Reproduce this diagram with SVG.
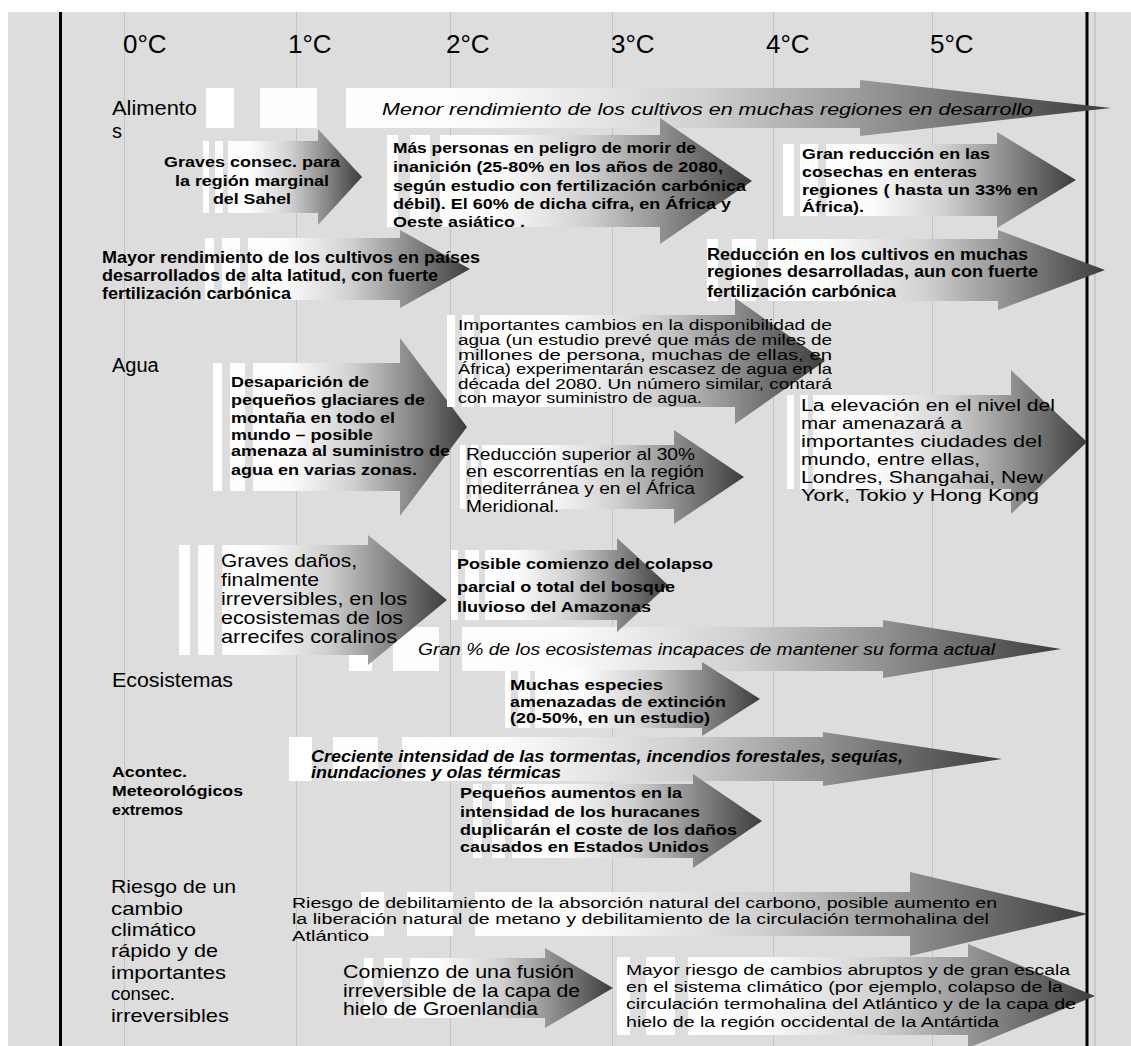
<svg xmlns="http://www.w3.org/2000/svg" width="1131" height="1046" viewBox="0 0 1131 1046">
<defs>
<linearGradient id="g" x1="0" y1="0" x2="1" y2="0">
<stop offset="0" stop-color="#ffffff"/>
<stop offset="0.3" stop-color="#fcfcfc"/>
<stop offset="0.55" stop-color="#d0d0d0"/>
<stop offset="0.75" stop-color="#919191"/>
<stop offset="1" stop-color="#3c3c3c"/>
</linearGradient>
<style>
.a{fill:url(#g)}
text{font-family:"Liberation Sans",Arial,sans-serif;fill:#000}
.b{font-weight:bold}
.i{font-style:italic}
.h{font-size:26px}
.r{font-size:20px}
.grid{stroke:#c4c4c4;stroke-width:1}
</style>
</defs>
<rect x="0" y="0" width="1131" height="1046" fill="#ffffff"/>
<rect x="8" y="12" width="1123" height="1034" fill="#dddddd"/>
<g id="axes">
<line class="grid" x1="124.5" y1="12" x2="124.5" y2="1046"/>
<line class="grid" x1="296.5" y1="12" x2="296.5" y2="1046"/>
<line class="grid" x1="450.5" y1="12" x2="450.5" y2="1046"/>
<line class="grid" x1="612.5" y1="12" x2="612.5" y2="1046"/>
<line class="grid" x1="773.5" y1="12" x2="773.5" y2="1046"/>
<line class="grid" x1="932.5" y1="12" x2="932.5" y2="1046"/>
<line x1="1095" y1="12" x2="1095" y2="1046" stroke="#c8c8c8" stroke-width="2"/>
<line x1="60.5" y1="12" x2="60.5" y2="1046" stroke="#000" stroke-width="3"/>
<line x1="1087" y1="12" x2="1087" y2="1046" stroke="#000" stroke-width="3"/>
<text class="h" x="123" y="53">0°C</text>
<text class="h" x="288" y="53">1°C</text>
<text class="h" x="446" y="53">2°C</text>
<text class="h" x="611" y="53">3°C</text>
<text class="h" x="766" y="53">4°C</text>
<text class="h" x="930" y="53">5°C</text>
</g>
<g id="labels">
<text class="r" x="112" y="115" textLength="85" lengthAdjust="spacingAndGlyphs">Alimento</text>
<text class="r" x="112" y="138">s</text>
<text class="r" x="112" y="372">Agua</text>
<text class="r" x="112" y="687" textLength="121" lengthAdjust="spacingAndGlyphs">Ecosistemas</text>
<g class="b" font-size="15.5">
<text x="112" y="777" textLength="75" lengthAdjust="spacingAndGlyphs">Acontec.</text>
<text x="112" y="796" textLength="131" lengthAdjust="spacingAndGlyphs">Meteorológicos</text>
<text x="112" y="815" textLength="71" lengthAdjust="spacingAndGlyphs">extremos</text>
</g>
<g font-size="19">
<text x="111" y="893" textLength="125" lengthAdjust="spacingAndGlyphs">Riesgo de un</text>
<text x="111" y="915" textLength="72" lengthAdjust="spacingAndGlyphs">cambio</text>
<text x="111" y="936" textLength="85" lengthAdjust="spacingAndGlyphs">climático</text>
<text x="111" y="957" textLength="107" lengthAdjust="spacingAndGlyphs">rápido y de</text>
<text x="111" y="979" textLength="115" lengthAdjust="spacingAndGlyphs">importantes</text>
<text x="111" y="1000" textLength="64" lengthAdjust="spacingAndGlyphs">consec.</text>
<text x="111" y="1022" textLength="118" lengthAdjust="spacingAndGlyphs">irreversibles</text>
</g>
</g>
<g id="connectors"></g>
<g id="n1">
<path class="a" d="M206 88H234V128H206Z M260 88H317V128H260Z M346 88H860V80L1111 108L860 136V128H346Z"/>
<text class="i" x="382" y="115" font-size="17" textLength="651" lengthAdjust="spacingAndGlyphs">Menor rendimiento de los cultivos en muchas regiones en desarrollo</text>
</g>
<g id="n2">
<path class="a" d="M203 141H209V213H203Z M215 141H223V213H215Z M228 141H318V129L362 177L318 225V213H228Z"/>
<g class="b" font-size="15.5">
<text x="164" y="167" textLength="176" lengthAdjust="spacingAndGlyphs">Graves consec. para</text>
<text x="175" y="186" textLength="154" lengthAdjust="spacingAndGlyphs">la región marginal</text>
<text x="213" y="204" textLength="78" lengthAdjust="spacingAndGlyphs">del Sahel</text>
</g>
</g>
<g id="n3">
<path class="a" d="M387 135H398V227H387Z M410 135H430V227H410Z M440 135H660V118L752 181L660 244V227H440Z"/>
<g class="b" font-size="15.5">
<text x="393" y="153" textLength="303" lengthAdjust="spacingAndGlyphs">Más personas en peligro de morir de</text>
<text x="393" y="172" textLength="330" lengthAdjust="spacingAndGlyphs">inanición (25-80% en los años de 2080,</text>
<text x="393" y="191" textLength="353" lengthAdjust="spacingAndGlyphs">según estudio con fertilización carbónica</text>
<text x="393" y="209" textLength="338" lengthAdjust="spacingAndGlyphs">débil). El 60% de dicha cifra, en África y</text>
<text x="393" y="227" textLength="132" lengthAdjust="spacingAndGlyphs">Oeste asiático .</text>
</g>
</g>
<g id="n4">
<path class="a" d="M783 144H794V216H783Z M800 144H818V216H800Z M826 144H997V132L1076 180L997 228V216H826Z"/>
<g class="b" font-size="15.5">
<text x="802" y="159" textLength="188" lengthAdjust="spacingAndGlyphs">Gran reducción en las</text>
<text x="802" y="177" textLength="175" lengthAdjust="spacingAndGlyphs">cosechas en enteras</text>
<text x="802" y="195" textLength="236" lengthAdjust="spacingAndGlyphs">regiones ( hasta un 33% en</text>
<text x="802" y="212" textLength="62" lengthAdjust="spacingAndGlyphs">África).</text>
</g>
</g>
<g id="n5">
<path class="a" d="M205 238H214V300H205Z M222 238H240V300H222Z M248 238H400V230L470 269L400 308V300H248Z"/>
<g class="b" font-size="16">
<text x="102" y="263" textLength="378" lengthAdjust="spacingAndGlyphs">Mayor rendimiento de los cultivos en países</text>
<text x="102" y="281" textLength="336" lengthAdjust="spacingAndGlyphs">desarrollados de alta latitud, con fuerte</text>
<text x="102" y="299" textLength="189" lengthAdjust="spacingAndGlyphs">fertilización carbónica</text>
</g>
</g>
<g id="n6">
<path class="a" d="M707 239H718V301H707Z M732 239H756V301H732Z M768 239H998V230L1105 270L998 310V301H768Z"/>
<g class="b" font-size="16">
<text x="707" y="260" textLength="321" lengthAdjust="spacingAndGlyphs">Reducción en los cultivos en muchas</text>
<text x="707" y="277" textLength="331" lengthAdjust="spacingAndGlyphs">regiones desarrolladas, aun con fuerte</text>
<text x="707" y="297" textLength="189" lengthAdjust="spacingAndGlyphs">fertilización carbónica</text>
</g>
</g>
<g id="n9">
<path class="a" d="M213 363H222V491H213Z M230 363H245V491H230Z M253 363H400V338L467 427L400 516V491H253Z"/>
<g class="b" font-size="15.5">
<text x="231" y="387" textLength="138" lengthAdjust="spacingAndGlyphs">Desaparición de</text>
<text x="231" y="405" textLength="194" lengthAdjust="spacingAndGlyphs">pequeños glaciares de</text>
<text x="231" y="423" textLength="164" lengthAdjust="spacingAndGlyphs">montaña en todo el</text>
<text x="231" y="440" textLength="142" lengthAdjust="spacingAndGlyphs">mundo – posible</text>
<text x="231" y="456" textLength="219" lengthAdjust="spacingAndGlyphs">amenaza al suministro de</text>
<text x="231" y="475" textLength="186" lengthAdjust="spacingAndGlyphs">agua en varias zonas.</text>
</g>
</g>
<g id="n7">
<path class="a" d="M447 315H455V407H447Z M462 315H474V407H462Z M480 315H735V298L825 361L735 424V407H480Z"/>
<g font-size="14">
<text x="458" y="330" textLength="374" lengthAdjust="spacingAndGlyphs">Importantes cambios en la disponibilidad de</text>
<text x="458" y="345" textLength="374" lengthAdjust="spacingAndGlyphs">agua (un estudio prevé que más de miles de</text>
<text x="458" y="360" textLength="374" lengthAdjust="spacingAndGlyphs">millones de persona, muchas de ellas, en</text>
<text x="458" y="374" textLength="374" lengthAdjust="spacingAndGlyphs">África) experimentarán escasez de agua en la</text>
<text x="458" y="389" textLength="374" lengthAdjust="spacingAndGlyphs">década del 2080. Un número similar, contará</text>
<text x="458" y="403" textLength="244" lengthAdjust="spacingAndGlyphs">con mayor suministro de agua.</text>
</g>
</g>
<g id="n10">
<path class="a" d="M460 445H466V509H460Z M471 445H478V509H471Z M482 445H674V430L744 477L674 524V509H482Z"/>
<g font-size="16">
<text x="466" y="460" textLength="229" lengthAdjust="spacingAndGlyphs">Reducción superior al 30%</text>
<text x="466" y="477" textLength="238" lengthAdjust="spacingAndGlyphs">en escorrentías en la región</text>
<text x="466" y="494" textLength="229" lengthAdjust="spacingAndGlyphs">mediterránea y en el África</text>
<text x="466" y="512" textLength="93" lengthAdjust="spacingAndGlyphs">Meridional.</text>
</g>
</g>
<g id="n8">
<path class="a" d="M787 395H794V489H787Z M800 395H808V489H800Z M813 395H1011V370L1087 442L1011 514V489H813Z"/>
<g font-size="16">
<text x="801" y="411" textLength="254" lengthAdjust="spacingAndGlyphs">La elevación en el nivel del</text>
<text x="801" y="429" textLength="161" lengthAdjust="spacingAndGlyphs">mar amenazará a</text>
<text x="801" y="447" textLength="241" lengthAdjust="spacingAndGlyphs">importantes ciudades del</text>
<text x="801" y="465" textLength="179" lengthAdjust="spacingAndGlyphs">mundo, entre ellas,</text>
<text x="801" y="483" textLength="242" lengthAdjust="spacingAndGlyphs">Londres, Shangahai, New</text>
<text x="801" y="501" textLength="238" lengthAdjust="spacingAndGlyphs">York, Tokio y Hong Kong</text>
</g>
</g>
<g id="n12">
<path class="a" d="M349 627H372V671H349Z M393 627H439V671H393Z M462 627H883V620L1061 649L883 678V671H462Z"/>
<text class="i" x="418" y="655" font-size="16" textLength="577" lengthAdjust="spacingAndGlyphs">Gran % de los ecosistemas incapaces de mantener su forma actual</text>
</g>
<g id="n11">
<path class="a" d="M179 545H190V655H179Z M198 545H214V655H198Z M222 545H368V535L447 600L368 665V655H222Z"/>
<g font-size="18.5">
<text x="221" y="567" textLength="136" lengthAdjust="spacingAndGlyphs">Graves daños,</text>
<text x="221" y="586" textLength="98" lengthAdjust="spacingAndGlyphs">finalmente</text>
<text x="221" y="605" textLength="186" lengthAdjust="spacingAndGlyphs">irreversibles, en los</text>
<text x="221" y="624" textLength="182" lengthAdjust="spacingAndGlyphs">ecosistemas de los</text>
<text x="221" y="643" textLength="176" lengthAdjust="spacingAndGlyphs">arrecifes coralinos</text>
</g>
</g>
<g id="n13">
<path class="a" d="M451 550H458V620H451Z M465 550H479V620H465Z M485 550H617V538L668 585L617 632V620H485Z"/>
<g class="b" font-size="15.5">
<text x="457" y="569" textLength="256" lengthAdjust="spacingAndGlyphs">Posible comienzo del colapso</text>
<text x="457" y="592" textLength="218" lengthAdjust="spacingAndGlyphs">parcial o total del bosque</text>
<text x="457" y="612" textLength="194" lengthAdjust="spacingAndGlyphs">lluvioso del Amazonas</text>
</g>
</g>
<g id="n14">
<path class="a" d="M505 670H511V728H505Z M518 670H530V728H518Z M535 670H702V662L760 699L702 736V728H535Z"/>
<g class="b" font-size="15">
<text x="510" y="690" textLength="153" lengthAdjust="spacingAndGlyphs">Muchas  especies</text>
<text x="510" y="707" textLength="216" lengthAdjust="spacingAndGlyphs">amenazadas de extinción</text>
<text x="510" y="723" textLength="200" lengthAdjust="spacingAndGlyphs">(20-50%, en un estudio)</text>
</g>
</g>
<g id="n15">
<path class="a" d="M289 737H312V781H289Z M333 737H378V781H333Z M402 737H823V732L1002 759L823 786V781H402Z"/>
<g class="b i" font-size="16">
<text x="311" y="762" textLength="592" lengthAdjust="spacingAndGlyphs">Creciente intensidad de las tormentas, incendios forestales, sequías,</text>
<text x="311" y="778" textLength="250" lengthAdjust="spacingAndGlyphs">inundaciones y olas térmicas</text>
</g>
</g>
<g id="n16">
<path class="a" d="M473 784H482V858H473Z M492 784H505V858H492Z M512 784H693V774L762 821L693 868V858H512Z"/>
<g class="b" font-size="14.5">
<text x="460" y="798" textLength="222" lengthAdjust="spacingAndGlyphs">Pequeños aumentos en la</text>
<text x="460" y="817" textLength="240" lengthAdjust="spacingAndGlyphs">intensidad de los huracanes</text>
<text x="460" y="835" textLength="277" lengthAdjust="spacingAndGlyphs">duplicarán el coste de los daños</text>
<text x="460" y="852" textLength="249" lengthAdjust="spacingAndGlyphs">causados en Estados Unidos</text>
</g>
</g>
<g id="n17">
<path class="a" d="M361 892H384V936H361Z M407 892H453V936H407Z M475 892H910V872L1088 914L910 956V936H475Z"/>
<g font-size="14">
<text x="292" y="908" textLength="705" lengthAdjust="spacingAndGlyphs">Riesgo de debilitamiento de la absorción natural del carbono, posible aumento en</text>
<text x="292" y="924" textLength="697" lengthAdjust="spacingAndGlyphs">la liberación natural de metano y debilitamiento de la circulación termohalina del</text>
<text x="292" y="941" textLength="77" lengthAdjust="spacingAndGlyphs">Atlántico</text>
</g>
</g>
<g id="n18">
<path class="a" d="M364 958H373V1018H364Z M384 958H402V1018H384Z M410 958H545V948L613 988L545 1028V1018H410Z"/>
<g font-size="18">
<text x="343" y="978" textLength="231" lengthAdjust="spacingAndGlyphs">Comienzo de una fusión</text>
<text x="343" y="997" textLength="237" lengthAdjust="spacingAndGlyphs">irreversible de la capa de</text>
<text x="343" y="1015" textLength="195" lengthAdjust="spacingAndGlyphs">hielo de Groenlandia</text>
</g>
</g>
<g id="n19">
<path class="a" d="M617 957H630V1035H617Z M646 957H675V1035H646Z M688 957H968V944L1095 996L968 1048V1035H688Z"/>
<g font-size="14">
<text x="626" y="975" textLength="444" lengthAdjust="spacingAndGlyphs">Mayor riesgo de cambios abruptos y de gran escala</text>
<text x="626" y="992" textLength="437" lengthAdjust="spacingAndGlyphs">en el sistema climático (por ejemplo, colapso de la</text>
<text x="626" y="1009" textLength="450" lengthAdjust="spacingAndGlyphs">circulación termohalina del Atlántico y de la capa de</text>
<text x="626" y="1027" textLength="373" lengthAdjust="spacingAndGlyphs">hielo de la región occidental de la Antártida</text>
</g>
</g>
</svg>
